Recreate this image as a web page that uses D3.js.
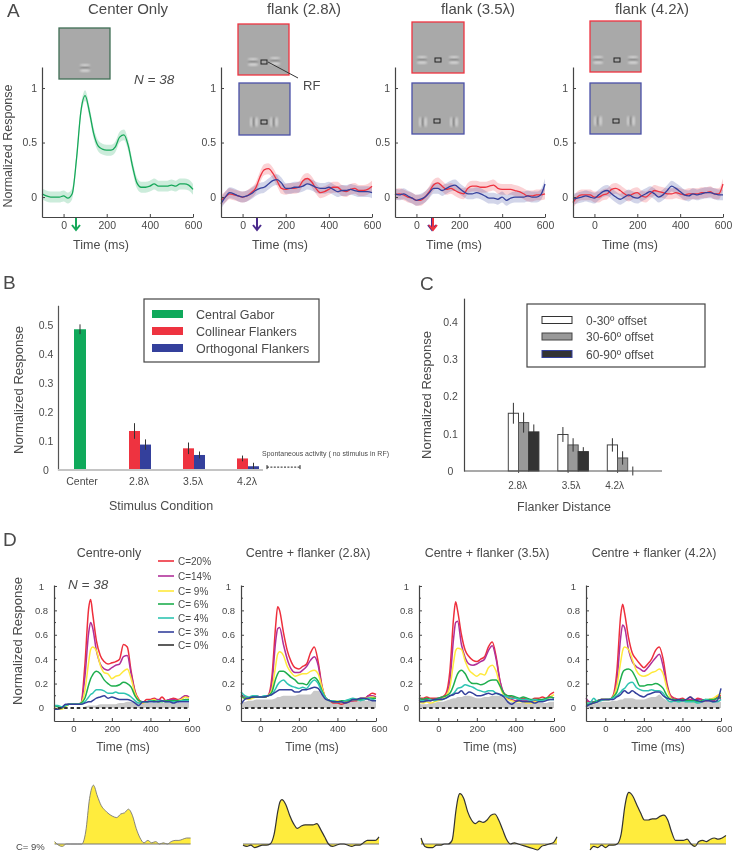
<!DOCTYPE html>
<html>
<head>
<meta charset="utf-8">
<title>Flanker responses</title>
<script src="https://cdn.jsdelivr.net/npm/d3@7"></script>
<style>
  html, body { margin: 0; padding: 0; background: #fff; }
  svg { filter: blur(.35px); }
  text { font-family: "Liberation Sans", Arial, sans-serif; fill: #4a4a4a; }
</style>
</head>
<body>
<div id="chart"></div>
<script>
// panel A time courses, one value every 20 ms
const timeA = d3.range(-100, 601, 20);
const centerOnly = [.03,.01,0,0,0,.01,-.01,.03,.35,.78,.93,.78,.58,.47,.44,.43,.43,.46,.55,.57,.47,.28,.13,.09,.09,.1,.12,.1,.1,.1,.11,.1,.12,.12,.11,.07];
const flank28Red = [-.03,0,.03,.02,.01,0,.01,.04,.08,.18,.25,.26,.22,.15,.08,.07,.08,.08,.09,.15,.17,.14,.08,.04,.05,.07,.09,.09,.06,.05,.07,.08,.06,.06,.07,.1];
const flank28Blue = [-.06,0,.04,.03,.01,0,.01,.03,.06,.08,.09,.12,.15,.16,.13,.08,.08,.09,.09,.1,.12,.11,.09,.08,.08,.09,.07,.05,.06,.06,.07,.06,.05,.05,.05,.04];
const flank35Red = [.02,.03,.02,0,-.01,-.03,-.03,0,.05,.11,.13,.1,.07,.08,.06,.04,.03,.08,.1,.1,.09,.09,.1,.11,.08,.07,.07,.07,.06,.05,.03,.01,.01,.02,.02,.03];
const flank35Blue = [.03,.02,.03,.01,-.01,-.03,-.02,0,.04,.08,.08,.06,.08,.1,.11,.08,.05,.03,.03,.04,.03,.01,-.01,-.01,-.02,0,-.03,-.01,0,0,0,.01,0,0,.02,.12];
const flank42Red = [-.05,0,.02,.02,.02,0,0,.02,.03,.07,.08,.06,.03,.01,.03,.04,.01,0,.03,.06,.05,.04,.03,.03,.04,.03,.02,.03,.03,.03,.04,.04,.05,.03,.03,.12];
const flank42Blue = [-.02,-.01,0,.01,0,-.01,.02,.05,.06,.03,0,-.02,0,.02,0,-.01,.01,.03,.05,.03,0,.02,.06,.1,.08,.05,.02,.01,.03,.02,.03,.04,.04,.03,.02,.02];
const bandHalf = 0.05;
const titlesA = ['Center Only', 'flank (2.8λ)', 'flank (3.5λ)', 'flank (4.2λ)'];

// panel B
const catsB = ['Center', '2.8λ', '3.5λ', '4.2λ'];
const gaborMean = [.487];
const gaborErr = [.017];
const collinearMean = [.135, .075, .04];
const collinearErr = [.027, .02, .01];
const orthoMean = [.088, .052, .013];
const orthoErr = [.018, .012, .012];
const spontaneous = .01;
const legendB = ['Central Gabor', 'Collinear Flankers', 'Orthogonal Flankers'];

// panel C
const catsC = ['2.8λ', '3.5λ', '4.2λ'];
const offsetNames = ['0-30º offset', '30-60º offset', '60-90º offset'];
const offset30Mean = [.155, .098, .07];
const offset30Err = [.028, .02, .018];
const offset60Mean = [.13, .07, .035];
const offset60Err = [.027, .018, .018];
const offset90Mean = [.105, .052, 0];
const offset90Err = [.02, .012, .012];

// panel D time courses
const timeD = [-100,-80,-60,-40,-20,0,20,40,60,80,90,100,120,140,160,180,200,220,240,260,280,300,320,340,360,380,400,420,440,460,480,500,520,540,560,580,600];
const contrasts = ['C=20%', 'C=14%', 'C= 9%', 'C= 6%', 'C= 4%', 'C= 3%', 'C= 0%'];
const titlesD = ['Centre-only', 'Centre + flanker (2.8λ)', 'Centre + flanker (3.5λ)', 'Centre + flanker (4.2λ)'];

const d1c20 = [0,-.01,0,.02,.03,.03,.03,.04,.35,.82,.89,.78,.55,.43,.38,.36,.37,.38,.4,.52,.5,.3,.14,.07,.04,.07,.07,.08,.06,.09,.06,.07,.08,.07,.07,.1,.09];
const d1c14 = [-.01,-.01,0,.02,.03,.03,.03,.04,.25,.62,.7,.66,.47,.36,.32,.31,.33,.35,.36,.42,.43,.28,.13,.06,.05,.05,.06,.07,.07,.06,.06,.07,.07,.06,.08,.1,.09];
const d1c9 = [0,-.01,-.01,.01,.03,.03,.03,.04,.14,.38,.48,.5,.47,.35,.29,.28,.24,.26,.27,.3,.32,.24,.12,.06,.04,.05,.06,.07,.05,.06,.05,.06,.06,.06,.07,.09,.08];
const d1c6 = [.02,.01,0,.02,.03,.03,.03,.04,.08,.19,.24,.27,.3,.28,.23,.2,.18,.18,.19,.21,.2,.17,.1,.06,.05,.05,.06,.06,.05,.05,.06,.06,.06,.06,.06,.07,.07];
const d1c4 = [.02,.02,.01,.02,.03,.03,.03,.03,.05,.09,.11,.12,.15,.15,.14,.12,.12,.13,.12,.12,.11,.09,.06,.04,.05,.05,.06,.05,.06,.06,.05,.05,.05,.05,.06,.06,.06];
const d1c3 = [-.01,-.01,0,.03,.03,.03,.03,.03,.04,.05,.05,.06,.08,.09,.1,.08,.09,.08,.07,.07,.07,.06,.04,.02,.05,.05,.05,.05,.05,.06,.05,.05,.04,.05,.05,.05,.05];
const d1c0 = [0,0,0,0,0,0,0,0,.01,.02,.02,.02,.02,.03,.03,.03,.03,.03,.04,.04,.05,.05,.05,.05,.05,.05,.04,.04,.04,.04,.04,.04,.04,.04,.04,.04,.04];

const d2c20 = [.1,.08,.08,.09,.09,.09,.09,.1,.25,.68,.83,.8,.62,.47,.38,.33,.32,.34,.36,.45,.5,.38,.18,.08,.06,.04,.04,.03,.04,.05,.06,.06,.08,.08,.1,.12,.11];
const d2c14 = [.11,.09,.08,.09,.1,.09,.09,.1,.2,.55,.65,.66,.52,.4,.32,.29,.29,.31,.34,.39,.42,.35,.17,.08,.06,.05,.05,.05,.05,.06,.06,.07,.07,.07,.1,.1,.09];
const d2c9 = [.09,.08,.07,.08,.09,.09,.09,.1,.15,.35,.44,.46,.43,.34,.29,.26,.27,.28,.28,.3,.31,.28,.17,.08,.06,.06,.06,.05,.06,.06,.07,.07,.07,.08,.08,.09,.08];
const d2c6 = [.1,.08,.08,.09,.09,.09,.09,.1,.13,.24,.28,.3,.3,.28,.25,.23,.2,.2,.19,.23,.25,.22,.14,.08,.06,.05,.05,.06,.06,.06,.07,.07,.07,.07,.08,.08,.08];
const d2c4 = [.13,.1,.09,.1,.1,.09,.1,.1,.11,.16,.19,.21,.23,.2,.18,.17,.16,.17,.16,.2,.23,.2,.13,.08,.06,.06,.05,.05,.06,.07,.08,.07,.06,.07,.08,.07,.06];
const d2c3 = [.03,.07,.08,.09,.09,.09,.09,.1,.11,.13,.14,.15,.15,.15,.15,.13,.13,.15,.15,.16,.17,.16,.11,.07,.06,.05,.05,.05,.04,.05,.07,.07,.08,.08,.07,.06,.06];
const d2c0 = [.05,.05,.06,.06,.07,.07,.07,.07,.07,.08,.09,.09,.1,.1,.1,.1,.11,.11,.11,.11,.14,.14,.1,.07,.06,.05,.05,.05,.05,.05,.06,.06,.06,.06,.06,.06,.06];

const d3c20 = [.08,.08,.09,.08,.08,.08,.09,.12,.3,.75,.87,.8,.6,.47,.42,.39,.38,.4,.42,.5,.54,.42,.22,.12,.1,.09,.08,.07,.08,.07,.06,.08,.08,.09,.08,.11,.13];
const d3c14 = [.06,.07,.07,.06,.07,.08,.08,.1,.22,.58,.7,.71,.52,.41,.36,.35,.36,.38,.4,.47,.51,.4,.22,.12,.08,.07,.06,.06,.06,.06,.05,.06,.06,.07,.07,.09,.08];
const d3c9 = [.05,.04,.05,.04,.05,.06,.07,.1,.17,.38,.47,.49,.48,.38,.31,.28,.26,.28,.27,.33,.35,.3,.18,.1,.07,.06,.05,.05,.05,.04,.04,.05,.05,.06,.07,.09,.11];
const d3c6 = [.08,.07,.08,.07,.07,.08,.09,.1,.12,.19,.24,.28,.31,.28,.22,.2,.2,.19,.2,.22,.23,.23,.18,.12,.1,.1,.09,.08,.09,.08,.07,.07,.07,.07,.08,.09,.08];
const d3c4 = [.06,.06,.06,.07,.06,.07,.07,.08,.1,.12,.14,.16,.17,.19,.18,.17,.15,.14,.13,.14,.14,.12,.11,.1,.09,.08,.08,.07,.07,.07,.06,.07,.06,.06,.07,.07,.07];
const d3c3 = [.05,.05,.06,.06,.07,.07,.07,.08,.1,.11,.12,.12,.14,.11,.13,.12,.1,.1,.11,.12,.11,.12,.11,.09,.05,.03,.05,.06,.05,.05,.05,.04,.05,.05,.06,.07,.07];
const d3c0 = [.03,.03,.03,.04,.04,.05,.05,.06,.07,.08,.08,.09,.09,.1,.1,.09,.08,.08,.09,.09,.1,.1,.1,.08,.06,.05,.04,.04,.04,.04,.04,.04,.04,.04,.04,.05,.05];

const d4c20 = [.06,.05,.05,.06,.07,.07,.07,.1,.3,.76,.85,.78,.58,.45,.4,.36,.33,.36,.4,.47,.5,.4,.2,.1,.08,.07,.08,.06,.09,.06,.08,.07,.06,.07,.06,.09,.1];
const d4c14 = [.08,.05,.05,.06,.07,.07,.07,.09,.22,.58,.68,.66,.48,.38,.34,.32,.3,.33,.37,.41,.44,.34,.18,.09,.07,.07,.07,.06,.07,.06,.07,.07,.06,.06,.06,.08,.08];
const d4c9 = [.05,.03,.04,.05,.07,.07,.07,.09,.18,.38,.47,.5,.48,.4,.31,.27,.26,.27,.29,.3,.32,.28,.16,.08,.06,.06,.06,.06,.06,.05,.05,.06,.06,.07,.08,.1,.12];
const d4c6 = [.03,.03,.05,.06,.07,.07,.07,.09,.13,.24,.29,.31,.32,.3,.24,.18,.18,.19,.19,.2,.19,.16,.1,.07,.07,.06,.07,.06,.06,.06,.05,.06,.07,.07,.07,.08,.09];
const d4c4 = [.04,.04,.08,.05,.06,.07,.07,.08,.1,.13,.15,.16,.2,.21,.17,.15,.14,.14,.15,.14,.14,.12,.07,.05,.06,.05,.06,.05,.05,.05,.04,.05,.07,.06,.05,.05,.07];
const d4c3 = [.01,.03,.04,.05,.07,.07,.07,.07,.09,.11,.13,.14,.12,.14,.12,.1,.09,.11,.12,.13,.13,.1,.08,.07,.06,.07,.06,.07,.09,.07,.06,.05,.06,.06,.05,.06,.16];
const d4c0 = [.02,.03,.03,.04,.05,.05,.05,.06,.06,.07,.07,.08,.08,.08,.07,.07,.07,.08,.09,.09,.11,.08,.06,.05,.05,.05,.05,.05,.05,.05,.05,.05,.05,.05,.05,.05,.05];

// bottom row, C = 9% minus the C = 0% curve
const diff1 = [.02,-.01,-.02,0,0,0,0,0,.1,.38,.46,.49,.4,.32,.28,.25,.23,.22,.25,.26,.29,.24,.13,.05,.01,.03,.01,.02,0,.01,0,.02,.03,.03,.04,.05,.05];
const diff2 = [-.01,-.02,-.01,-.03,-.02,-.01,-.01,0,.08,.28,.35,.37,.33,.24,.17,.13,.15,.16,.16,.16,.17,.12,.06,0,-.02,-.01,0,0,-.01,-.02,-.01,-.01,.01,.03,.03,.03,.06];
const diff3 = [.05,-.02,-.03,-.03,-.01,-.01,0,0,.03,.28,.38,.42,.38,.27,.2,.17,.19,.18,.2,.24,.25,.2,.12,.04,0,.01,0,-.01,-.02,-.03,-.04,-.05,-.02,-.01,0,.01,.06];
const diff4 = [-.05,-.02,-.03,-.01,-.03,-.01,-.01,0,.08,.32,.4,.43,.4,.33,.26,.2,.2,.21,.21,.23,.24,.2,.1,.03,.03,.03,.04,0,-.02,.02,.03,.02,.04,.05,.04,.05,.07];

const colors = { green: '#17a85a', red: '#ee3340', blue: '#34409c', purple: '#4b2a8c' };
const contrastColors = ['#ee2f3c', '#b0309a', '#ffe93c', '#1fae4e', '#2fc4b2', '#34409c', '#333333'];

const svg = d3.select('#chart').append('svg')
    .attr('width', 732)
    .attr('height', 853)
    .style('display', 'block');

const defs = svg.append('defs');
defs.append('filter').attr('id', 'soft')
    .attr('x', '-50%').attr('y', '-50%').attr('width', '200%').attr('height', '200%')
    .append('feGaussianBlur').attr('stdDeviation', .85);

function label(str, x, y, size, opts) {
    const o = opts || {};
    const t = svg.append('text')
        .attr('x', x)
        .attr('y', y)
        .attr('font-size', size)
        .attr('text-anchor', o.anchor || 'middle')
        .text(str);
    if (o.italic) t.attr('font-style', 'italic');
    if (o.rotate) t.attr('transform', 'rotate(-90,' + x + ',' + y + ')');
    return t;
}

function styleAxis(g, size, color) {
    g.select('.domain').attr('stroke', color).attr('stroke-width', 1.2);
    g.selectAll('.tick line').attr('stroke', color);
    g.selectAll('.tick text').attr('font-size', size).attr('font-family', null).style('fill', '#4a4a4a');
}

// y tick labels in B, C and D are centred on one another, not right aligned
function centreLabels(g, x) {
    g.selectAll('.tick text').attr('text-anchor', 'middle').attr('x', x);
}

function timeAxes(x, y, xVals, yVals, xMinor, yMinor, size, pad) {
    const bottom = y.range()[0];
    const left = x.range()[0];
    const gx = svg.append('g').attr('transform', 'translate(0,' + bottom + ')')
        .call(d3.axisBottom(x).tickValues(xVals).tickFormat(String).tickSizeInner(-3).tickSizeOuter(0).tickPadding(pad));
    styleAxis(gx, size, '#444');
    const gy = svg.append('g').attr('transform', 'translate(' + left + ',0)')
        .call(d3.axisLeft(y).tickValues(yVals).tickFormat(String).tickSizeInner(-3).tickSizeOuter(0).tickPadding(5));
    styleAxis(gy, size, '#444');
    svg.append('g').selectAll('line').data(yMinor).join('line')
        .attr('x1', left).attr('x2', left + 2)
        .attr('y1', d => y(d)).attr('y2', d => y(d))
        .attr('stroke', '#444');
    svg.append('g').selectAll('line').data(xMinor).join('line')
        .attr('x1', d => x(d)).attr('x2', d => x(d))
        .attr('y1', bottom).attr('y2', bottom - 2)
        .attr('stroke', '#444');
    return { gx: gx, gy: gy };
}

// ---------- A ----------
const plotsA = [
    { left: 42, width: 151, series: [[centerOnly, colors.green]], time: 101 },
    { left: 221, width: 151, series: [[flank28Red, colors.red], [flank28Blue, colors.blue]], time: 280 },
    { left: 395, width: 150, series: [[flank35Red, colors.red], [flank35Blue, colors.blue]], time: 454 },
    { left: 573, width: 150, series: [[flank42Red, colors.red], [flank42Blue, colors.blue]], time: 630 }
];
const titleXA = [128, 304, 478, 652];

const yA = d3.scaleLinear().domain([-.183, 1.193]).range([217, 67]);

plotsA.forEach((p, i) => {
    const x = d3.scaleLinear().domain([-100, 600]).range([p.left, p.left + p.width]);
    const line = d3.line().x((d, k) => x(timeA[k])).y(d => yA(d)).curve(d3.curveMonotoneX);
    const band = d3.area().x((d, k) => x(timeA[k]))
        .y0(d => yA(d - bandHalf)).y1(d => yA(d + bandHalf)).curve(d3.curveMonotoneX);

    p.series.forEach(s => {
        svg.append('path').attr('d', band(s[0])).attr('fill', s[1]).attr('fill-opacity', .22);
    });
    p.series.forEach(s => {
        svg.append('path').attr('d', line(s[0])).attr('fill', 'none').attr('stroke', s[1]).attr('stroke-width', 1.3);
    });

    timeAxes(x, yA, [0, 200, 400, 600], [0, .5, 1], [], [], 10.5, 5);
    label(titlesA[i], titleXA[i], 14, 15);
    label('Time (ms)', p.time, 249, 12.5);
});

label('A', 7, 17, 19, { anchor: 'start' });
label('Normalized Response', 11.5, 146, 12.5, { rotate: true });
label('N = 38', 134, 84, 13.5, { anchor: 'start', italic: true });

// onset arrows under the axis
function arrow(x, color) {
    svg.append('path')
        .attr('d', 'M' + x + ',218V229M' + (x - 4) + ',225L' + x + ',230L' + (x + 4) + ',225')
        .attr('fill', 'none').attr('stroke', color).attr('stroke-width', 2);
}
arrow(76, colors.green);
arrow(257, colors.purple);
arrow(432, colors.purple);
arrow(433, colors.red);

// stimulus thumbnails
function gabor(g, x, y, vertical) {
    const stripes = [[-2.4, '#e4e4e4'], [0, '#777777'], [2.4, '#e4e4e4']];
    stripes.forEach(s => {
        g.append('ellipse')
            .attr('cx', vertical ? x + s[0] : x)
            .attr('cy', vertical ? y : y + s[0])
            .attr('rx', vertical ? 1.1 : 5)
            .attr('ry', vertical ? 5 : 1.1)
            .attr('fill', s[1])
            .attr('filter', 'url(#soft)');
    });
}

function thumb(x, y, w, h, stroke, flankers, vertical, rf) {
    const g = svg.append('g');
    g.append('rect').attr('x', x).attr('y', y).attr('width', w).attr('height', h)
        .attr('fill', '#a9a9a9').attr('stroke', stroke).attr('stroke-width', 1.3);
    flankers.forEach(f => gabor(g, f[0], f[1], vertical));
    if (rf) {
        g.append('rect').attr('x', rf[0] - 3).attr('y', rf[1] - 2).attr('width', 6).attr('height', 4)
            .attr('fill', 'none').attr('stroke', '#222').attr('stroke-width', 1);
    }
}

thumb(59, 28, 51, 51, '#3f6f55', [[85, 68]], false, null);
thumb(238, 24, 51, 51, colors.red, [[253, 62], [275, 61]], false, [264, 62]);
thumb(239, 83, 51, 52, '#4a50a8', [[254, 122], [274, 122]], true, [264, 122]);
thumb(412, 22, 52, 51, colors.red, [[422, 60], [454, 60]], false, [438, 60]);
thumb(412, 83, 52, 51, '#4a50a8', [[423, 122], [454, 122]], true, [437, 121]);
thumb(590, 21, 51, 51, colors.red, [[598, 60], [633, 60]], false, [617, 60]);
thumb(590, 83, 51, 51, '#4a50a8', [[598, 121], [631, 121]], true, [616, 121]);

svg.append('line').attr('x1', 268).attr('y1', 62).attr('x2', 298).attr('y2', 78)
    .attr('stroke', '#333').attr('stroke-width', 1);
label('RF', 303, 90, 13, { anchor: 'start' });

// ---------- B ----------
const yB = d3.scaleLinear().domain([0, .5]).range([470, 325.5]);
const xB = d3.scaleOrdinal(catsB, [80, 140, 194, 248]);
const barB = 11;

function errorBars(group, x, y, means, errs) {
    group.selectAll('line.err').data(means).join('line')
        .attr('class', 'err')
        .attr('x1', (d, i) => x(i)).attr('x2', (d, i) => x(i))
        .attr('y1', (d, i) => y(d - errs[i])).attr('y2', (d, i) => y(d + errs[i]))
        .attr('stroke', '#333').attr('stroke-width', 1);
}

function barsB(cats, means, errs, color, off, width) {
    const g = svg.append('g');
    g.selectAll('rect').data(means).join('rect')
        .attr('x', (d, i) => xB(cats[i]) + off)
        .attr('width', width)
        .attr('y', d => yB(d))
        .attr('height', d => yB(0) - yB(d))
        .attr('fill', color);
    errorBars(g, i => xB(cats[i]) + off + width / 2, yB, means, errs);
}

barsB(catsB.slice(0, 1), gaborMean, gaborErr, '#0fa95b', -6, 12);
barsB(catsB.slice(1), collinearMean, collinearErr, colors.red, -barB, barB);
barsB(catsB.slice(1), orthoMean, orthoErr, colors.blue, 0, barB);

const gyB = svg.append('g').attr('transform', 'translate(58,0)')
    .call(d3.axisLeft(d3.scaleLinear().domain([0, .57]).range([yB(0), yB(.57)]))
        .tickValues([0, .1, .2, .3, .4, .5]).tickFormat(String).tickSize(0).tickPadding(5));
styleAxis(gyB, 10.5, '#555');
centreLabels(gyB, -12);

svg.append('line').attr('x1', 58).attr('x2', 263).attr('y1', yB(0)).attr('y2', yB(0))
    .attr('stroke', '#c4c4c4').attr('stroke-width', 2);

svg.append('g').selectAll('text').data(catsB).join('text')
    .attr('x', d => xB(d) + (d === 'Center' ? 2 : -1))
    .attr('y', 485)
    .attr('font-size', 10.5)
    .attr('text-anchor', 'middle')
    .text(d => d);

label('B', 3, 289, 19, { anchor: 'start' });
label('Normalized Response', 23, 390, 13, { rotate: true });
label('Stimulus Condition', 161, 510, 12.5);

svg.append('rect').attr('x', 144).attr('y', 299).attr('width', 175).attr('height', 63)
    .attr('fill', '#fff').attr('stroke', '#444').attr('stroke-width', 1.2);
const swatchB = ['#0fa95b', colors.red, colors.blue];
const legendYB = [314, 331, 348];
legendB.forEach((name, i) => {
    svg.append('rect').attr('x', 152).attr('y', legendYB[i] - 4).attr('width', 31).attr('height', 8).attr('fill', swatchB[i]);
    label(name, 196, legendYB[i] + 4.5, 12.5, { anchor: 'start' });
});

// spontaneous activity marker
svg.append('line').attr('x1', 267).attr('x2', 300).attr('y1', yB(spontaneous)).attr('y2', yB(spontaneous))
    .attr('stroke', '#222').attr('stroke-width', 1).attr('stroke-dasharray', '2 1.4');
svg.append('line').attr('x1', 267).attr('x2', 267).attr('y1', yB(spontaneous) - 2).attr('y2', yB(spontaneous) + 2).attr('stroke', '#222');
svg.append('line').attr('x1', 300).attr('x2', 300).attr('y1', yB(spontaneous) - 2).attr('y2', yB(spontaneous) + 2).attr('stroke', '#222');
label('Spontaneous activity ( no stimulus in RF)', 262, 456, 7, { anchor: 'start' }).attr('textLength', 127).attr('lengthAdjust', 'spacingAndGlyphs');

// ---------- C ----------
const yC = d3.scaleLinear().domain([0, .4]).range([471, 322]);
const xC = d3.scalePoint().domain(catsC).range([523.6, 622.6]);
const barC = 10.2;
const labelShiftC = [-6, -2, -8];

function barsC(means, errs, fill, stroke, index) {
    const g = svg.append('g');
    const left = i => xC(catsC[i]) + (index - 1.5) * barC;
    g.selectAll('rect').data(means).join('rect')
        .attr('x', (d, i) => left(i))
        .attr('width', barC)
        .attr('y', d => yC(d))
        .attr('height', d => yC(0) - yC(d))
        .attr('fill', fill)
        .attr('stroke', stroke)
        .attr('stroke-width', 1);
    errorBars(g, i => left(i) + barC / 2, yC, means, errs);
}

barsC(offset30Mean, offset30Err, '#fff', '#444', 0);
barsC(offset60Mean, offset60Err, '#999', '#555', 1);
barsC(offset90Mean, offset90Err, '#333', '#333', 2);

const gyC = svg.append('g').attr('transform', 'translate(464,0)')
    .call(d3.axisLeft(d3.scaleLinear().domain([0, .464]).range([yC(0), yC(.464)]))
        .tickValues([0, .1, .2, .3, .4]).tickFormat(String).tickSize(0).tickPadding(7));
styleAxis(gyC, 10.5, '#444');
centreLabels(gyC, -13.5);
svg.append('line').attr('x1', 464).attr('x2', 662).attr('y1', yC(0)).attr('y2', yC(0))
    .attr('stroke', '#555').attr('stroke-width', 1.2);

catsC.forEach((c, i) => {
    label(c, xC(c) + labelShiftC[i], 489, 10);
    svg.append('line').attr('x1', xC(c) - 5).attr('x2', xC(c) - 5).attr('y1', yC(0)).attr('y2', yC(0) + 2).attr('stroke', '#555');
});

label('C', 420, 290, 19, { anchor: 'start' });
label('Normalized Response', 431, 395, 13, { rotate: true });
label('Flanker Distance', 564, 511, 12.5);

svg.append('rect').attr('x', 527).attr('y', 304).attr('width', 178).attr('height', 63)
    .attr('fill', '#fff').attr('stroke', '#444').attr('stroke-width', 1.2);
const swatchC = [['#fff', '#333'], ['#999', '#444'], ['#333', '#34409c']];
const legendYC = [320, 336.5, 354];
offsetNames.forEach((name, i) => {
    svg.append('rect').attr('x', 542).attr('y', legendYC[i] - 3.5).attr('width', 30).attr('height', 7)
        .attr('fill', swatchC[i][0]).attr('stroke', swatchC[i][1]).attr('stroke-width', 1);
    label(name, 586, legendYC[i] + 4.5, 12, { anchor: 'start' });
});

// ---------- D ----------
const plotsD = [
    { left: 54, curves: [d1c20, d1c14, d1c9, d1c6, d1c4, d1c3], gray: d1c0, titleX: 109, timeX: 123 },
    { left: 241, curves: [d2c20, d2c14, d2c9, d2c6, d2c4, d2c3], gray: d2c0, titleX: 308, timeX: 312 },
    { left: 419, curves: [d3c20, d3c14, d3c9, d3c6, d3c4, d3c3], gray: d3c0, titleX: 487, timeX: 490 },
    { left: 586, curves: [d4c20, d4c14, d4c9, d4c6, d4c4, d4c3], gray: d4c0, titleX: 654, timeX: 658 }
];
const yD = d3.scaleLinear().domain([-.107, 1.008]).range([721, 585]);

plotsD.forEach((p, i) => {
    const x = d3.scaleLinear().domain([-100, 600]).range([p.left, p.left + 135]);
    const line = d3.line().x((d, k) => x(timeD[k])).y(d => yD(d)).curve(d3.curveMonotoneX);
    const area = d3.area().x((d, k) => x(timeD[k])).y0(yD(0)).y1(d => yD(d)).curve(d3.curveMonotoneX);

    svg.append('path').attr('d', area(p.gray)).attr('fill', '#c9c9c9');
    p.curves.forEach((c, k) => {
        svg.append('path').attr('d', line(c)).attr('fill', 'none')
            .attr('stroke', contrastColors[k]).attr('stroke-width', 1.5);
    });
    svg.append('line').attr('x1', x(-80)).attr('x2', x(600)).attr('y1', yD(0)).attr('y2', yD(0))
        .attr('stroke', contrastColors[6]).attr('stroke-width', 2).attr('stroke-dasharray', '3.5 2.8');

    const axes = timeAxes(x, yD, [0, 200, 400, 600], [0, .2, .4, .6, .8, 1], [100, 300, 500], [.1, .3, .5, .7, .9], 9.5, 4);
    centreLabels(axes.gy, -12.5);
    axes.gx.selectAll('.tick text').filter(d => d === 600).attr('dx', 3);
    label(titlesD[i], p.titleX, 557, 12.5);
    label('Time (ms)', p.timeX, 751, 12);
});

label('D', 3, 546, 19, { anchor: 'start' });
label('Normalized Response', 22, 641, 13, { rotate: true });
label('N = 38', 68, 589, 13.5, { anchor: 'start', italic: true });

const legendYD = [561, 576, 591, 604, 618, 632, 645];
contrasts.forEach((c, i) => {
    svg.append('line').attr('x1', 158).attr('x2', 174).attr('y1', legendYD[i]).attr('y2', legendYD[i])
        .attr('stroke', contrastColors[i]).attr('stroke-width', 1.6);
    label(c, 178, legendYD[i] + 3.5, 10, { anchor: 'start' });
});

// bottom row
const diffPlots = [
    { left: 54.6, values: diff1, stroke: '#777', width: .9 },
    { left: 243, values: diff2, stroke: '#333', width: 1.2 },
    { left: 421, values: diff3, stroke: '#333', width: 1.2 },
    { left: 590, values: diff4, stroke: '#333', width: 1.2 }
];
const yDiff = d3.scaleLinear().domain([-.05, .5]).range([850, 784]);

diffPlots.forEach(p => {
    const x = d3.scaleLinear().domain([-100, 600]).range([p.left, p.left + 136]);
    const line = d3.line().x((d, k) => x(timeD[k])).y(d => yDiff(d)).curve(d3.curveMonotoneX);
    const area = d3.area().x((d, k) => x(timeD[k])).y0(yDiff(0)).y1(d => yDiff(d)).curve(d3.curveMonotoneX);
    svg.append('path').attr('d', area(p.values)).attr('fill', '#ffec3d');
    svg.append('line').attr('x1', x(-100)).attr('x2', x(600)).attr('y1', yDiff(0)).attr('y2', yDiff(0))
        .attr('stroke', '#777').attr('stroke-width', 1);
    svg.append('path').attr('d', line(p.values)).attr('fill', 'none')
        .attr('stroke', p.stroke).attr('stroke-width', p.width);
});

label('C= 9%', 16, 850, 9.5, { anchor: 'start' });
</script>
</body>
</html>
